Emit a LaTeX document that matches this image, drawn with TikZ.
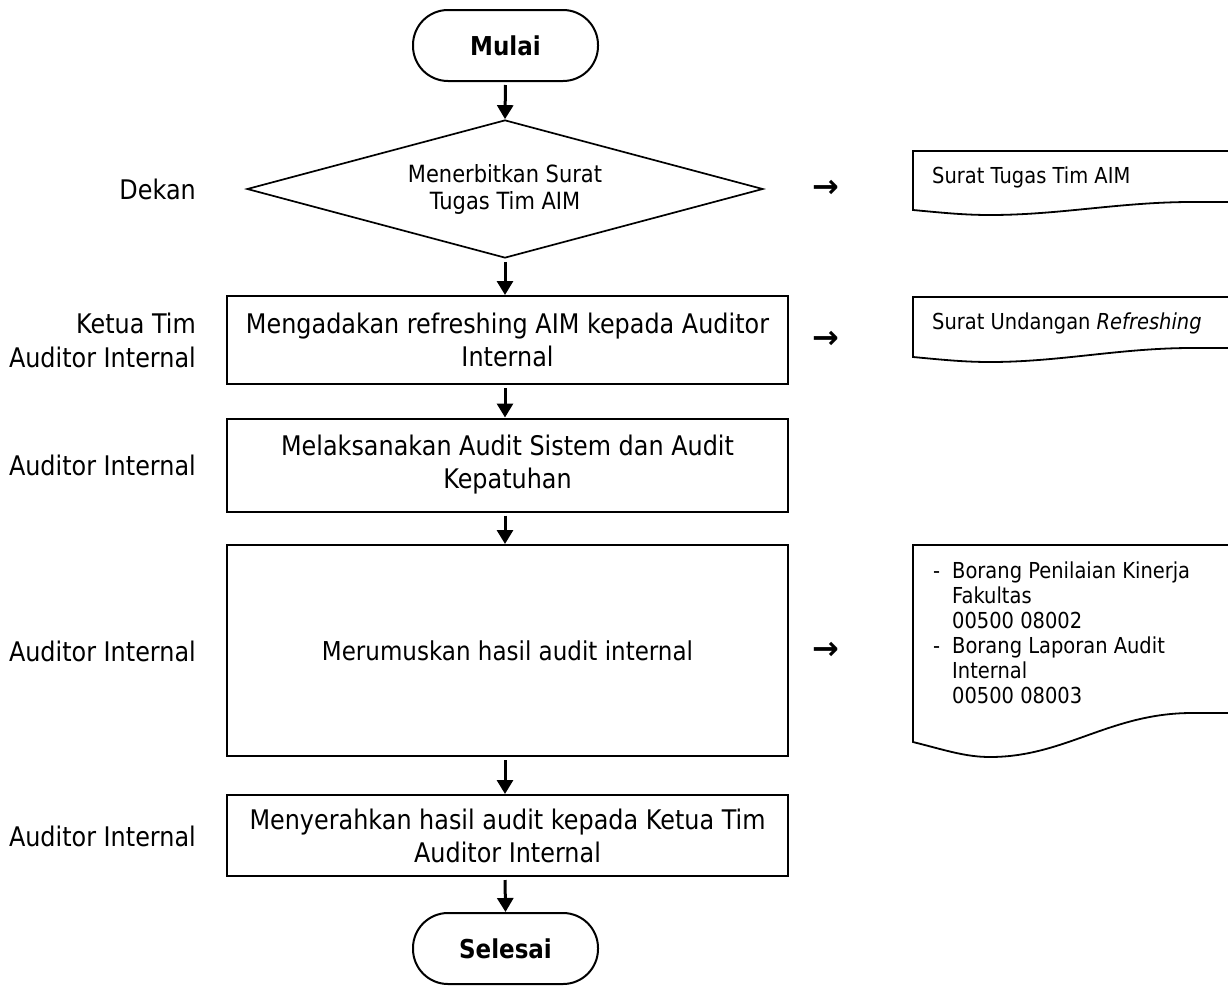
\documentclass[tikz,border=0pt]{standalone}
\usepackage{fontspec}
\setmainfont{DejaVu Sans}[FakeStretch=0.885]
\newfontfamily\arrowfont{DejaVu Sans}
\usetikzlibrary{shapes.geometric,arrows.meta}
\begin{document}
\begin{tikzpicture}[x=1pt,y=-1pt,
  box/.style={draw,line width=2pt,minimum width=561pt,align=center,inner sep=0pt,font=\fontsize{27}{33}\selectfont},
  term/.style={draw,line width=2pt,rounded corners=35pt,minimum width=185pt,minimum height=71pt,inner sep=0pt,font=\fontsize{26}{30}\selectfont\bfseries},
  dia/.style={draw,diamond,aspect=3.74,line width=1.7pt,minimum width=516pt,minimum height=138pt,inner sep=0pt,align=center,font=\fontsize{23.7}{27}\selectfont},
  lbl/.style={anchor=east,align=right,inner sep=0pt,font=\fontsize{27}{34}\selectfont},
  flow/.style={line width=3pt,-{Triangle[length=14pt,width=16pt]},shorten <=3pt},
  docline/.style={line width=1.8pt},
  doctext/.style={anchor=west,align=left,inner sep=0pt,font=\fontsize{22}{25}\selectfont},
  rarr/.style={inner sep=0pt,font=\arrowfont\bfseries\fontsize{32}{32}\selectfont}
]
\useasboundingbox (0,0) rectangle (1228,985);
\fill[white] (0,0) rectangle (1228,985);

% flow nodes
\node[term] (start) at (505.5,45.5) {Mulai};
\node[dia] (d1) at (505,189) {Menerbitkan Surat\\Tugas Tim AIM};
\node[box,minimum height=88pt] (b2) at (507.5,340) {Mengadakan refreshing AIM kepada Auditor\\Internal};
\node[box,minimum height=93pt] (b3) at (507.5,465) {Melaksanakan Audit Sistem dan Audit\\Kepatuhan};
\node[box,minimum height=211pt,font=\fontsize{26}{30}\selectfont] (b4) at (507.5,650.5) {Merumuskan hasil audit internal};
\node[box,minimum height=81pt] (b5) at (507.5,835.5) {Menyerahkan hasil audit kepada Ketua Tim\\Auditor Internal};
\node[term] (end) at (505.5,948.5) {Selesai};

% connectors
\draw[flow] (start.south) -- (d1.north);
\draw[flow] (d1.south) -- (d1.south |- b2.north);
\draw[flow] (b2.south -| d1.south) -- (d1.south |- b3.north);
\draw[flow] (b3.south -| d1.south) -- (d1.south |- b4.north);
\draw[flow] (b4.south -| d1.south) -- (d1.south |- b5.north);
\draw[flow] (b5.south -| d1.south) -- (end.north);

% role labels
\node[lbl] (l1) at (196,189) {Dekan};
\node[lbl] (l2) at (196,340) {Ketua Tim\\Auditor Internal};
\node[lbl] (l3) at (196,465) {Auditor Internal};
\node[lbl] (l4) at (196,651) {Auditor Internal};
\node[lbl] (l5) at (196,836) {Auditor Internal};

% side arrows (glyphs)
\node[rarr] (r1) at (826,189) {→};
\node[rarr] (r2) at (826,340) {→};
\node[rarr] (r3) at (826,651) {→};

% documents
\draw[docline] (1232,151) -- (913,151) -- (913,210)
  .. controls (945,213) and (965,215) .. (990,215)
  .. controls (1060,215) and (1120,202) .. (1192,202) -- (1232,202);
\node[doctext] (t1) at (932,177) {Surat Tugas Tim AIM};

\draw[docline] (1232,297) -- (913,297) -- (913,357)
  .. controls (945,360) and (965,362) .. (990,362)
  .. controls (1060,362) and (1120,348) .. (1192,348) -- (1232,348);
\node[doctext] (t2) at (932,323) {Surat Undangan \textit{Refreshing}};

\draw[docline] (1232,545) -- (913,545) -- (913,742)
  .. controls (945,750) and (965,757) .. (990,757)
  .. controls (1065,757) and (1110,713) .. (1192,713) -- (1232,713);
\node[doctext,anchor=north west] (t3) at (933,562) {\makebox[19pt][l]{-}Borang Penilaian Kinerja\\
\hspace*{19pt}Fakultas\\
\hspace*{19pt}00500 08002\\
\makebox[19pt][l]{-}Borang Laporan Audit\\
\hspace*{19pt}Internal\\
\hspace*{19pt}00500 08003};
\end{tikzpicture}
\end{document}
